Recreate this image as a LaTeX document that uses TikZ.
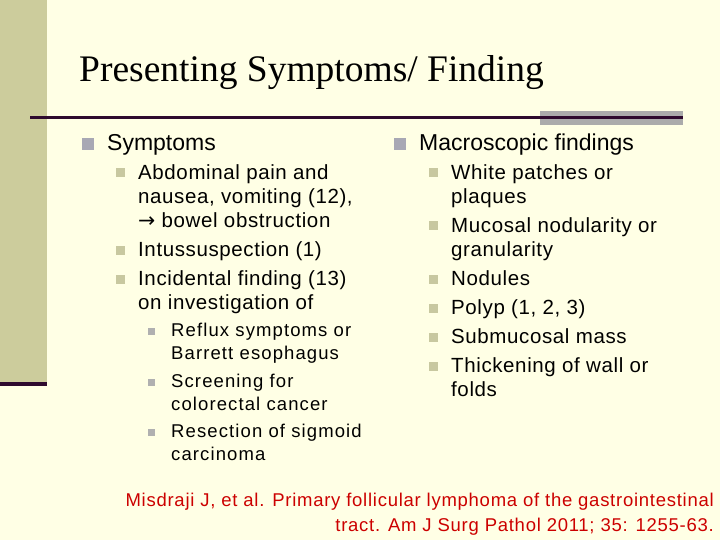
\documentclass[tikz,border=0pt]{standalone}
\usepackage{fontspec}
\setmainfont{Liberation Sans}
\newfontfamily\seriffont{Liberation Serif}
\newfontfamily\spA[LetterSpace=3]{Liberation Sans}
\newfontfamily\spR[LetterSpace=4]{Liberation Sans}
\newfontfamily\spC[LetterSpace=6]{Liberation Sans}
\newfontfamily\arrfont{DejaVu Sans}
\definecolor{bgc}{HTML}{FFFFE5}
\definecolor{barc}{HTML}{CCCC9C}
\definecolor{linec}{HTML}{2E0A2E}
\definecolor{grayb}{HTML}{ABABAB}
\definecolor{bullA}{HTML}{A8A8B4}
\definecolor{bullB}{HTML}{C8C8A0}
\definecolor{bullC}{HTML}{B0B0B0}
\definecolor{refc}{HTML}{CC0000}
\begin{document}
\begin{tikzpicture}[x=1pt,y=-1pt,
  tA/.style={anchor=mid west,inner sep=0pt,yshift=-4pt,font=\fontsize{23}{26}\selectfont},
  tB/.style={anchor=mid west,inner sep=0pt,yshift=-3.5pt,font=\spA\fontsize{20.5}{23}\selectfont},
  tC/.style={anchor=mid west,inner sep=0pt,yshift=-3pt,font=\spC\fontsize{18.5}{20}\selectfont},
  tR/.style={anchor=mid east,inner sep=0pt,yshift=-3pt,text=refc,font=\spR\fontsize{18.5}{20}\selectfont},
  bA/.style={fill=bullA,minimum size=12pt,inner sep=0pt},
  bB/.style={fill=bullB,minimum size=9pt,inner sep=0pt},
  bC/.style={fill=bullC,minimum size=7pt,inner sep=0pt}]
\fill[bgc] (0,0) rectangle (720,540);
\useasboundingbox (0,0) rectangle (720,540);
\fill[barc] (0,0) rectangle (47,382);
\fill[linec] (0,382) rectangle (47,386);
\fill[grayb] (540,111) rectangle (683,125);
\fill[linec] (30,116.5) rectangle (683,119.5);
\node[anchor=base west,inner sep=0pt,font=\seriffont\fontsize{37.5}{40}\selectfont] (title) at (79,82) {Presenting Symptoms/ Finding};
% left column
\node[bA] (lb1) at (88,144) {};
\node[tA] (l1) at (107,144) {Symptoms};
\node[bB] (lb2) at (120,173) {};
\node[tB] (l2) at (138,173) {Abdominal pain and};
\node[tB] (l3) at (138,197) {nausea, vomiting (12),};
\node[tB] (l4) at (138,221) {{\arrfont →} bowel obstruction};
\node[bB] (lb5) at (120,250) {};
\node[tB] (l5) at (138,250) {Intussuspection (1)};
\node[bB] (lb6) at (120,279) {};
\node[tB] (l6) at (138,279) {Incidental finding (13)};
\node[tB] (l7) at (138,303) {on investigation of};
\node[bC] (lb8) at (151,331) {};
\node[tC] (l8) at (171,331) {Reflux symptoms or};
\node[tC] (l9) at (171,354) {Barrett esophagus};
\node[bC] (lb10) at (151,382) {};
\node[tC] (l10) at (171,382) {Screening for};
\node[tC] (l11) at (171,405) {colorectal cancer};
\node[bC] (lb12) at (151,432) {};
\node[tC] (l12) at (171,432) {Resection of sigmoid};
\node[tC] (l13) at (171,455) {carcinoma};
% right column
\node[bA] (rb1) at (400,144) {};
\node[tA] (r1) at (419,144) {Macroscopic findings};
\node[bB] (rb2) at (433,173) {};
\node[tB] (r2) at (451,173) {White patches or};
\node[tB] (r3) at (451,197) {plaques};
\node[bB] (rb4) at (433,226) {};
\node[tB] (r4) at (451,226) {Mucosal nodularity or};
\node[tB] (r5) at (451,250) {granularity};
\node[bB] (rb6) at (433,279) {};
\node[tB] (r6) at (451,279) {Nodules};
\node[bB] (rb7) at (433,308) {};
\node[tB] (r7) at (451,308) {Polyp (1, 2, 3)};
\node[bB] (rb8) at (433,337) {};
\node[tB] (r8) at (451,337) {Submucosal mass};
\node[bB] (rb9) at (433,366) {};
\node[tB] (r9) at (451,366) {Thickening of wall or};
\node[tB] (r10) at (451,390) {folds};
% reference
\node[tR] (ref1) at (714,501) {Misdraji J, et al. Primary follicular lymphoma of the gastrointestinal};
\node[tR] (ref2) at (714,526) {tract. Am J Surg Pathol 2011; 35: 1255-63.};
\end{tikzpicture}
\end{document}
